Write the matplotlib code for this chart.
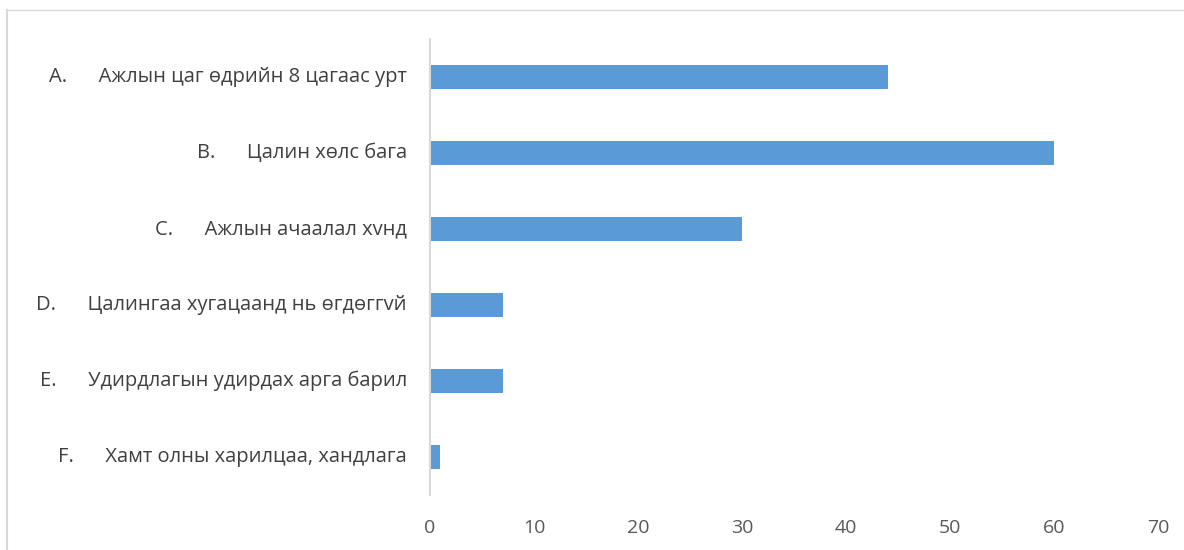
import matplotlib
matplotlib.use("Agg")
import matplotlib.pyplot as plt
from matplotlib.lines import Line2D

plt.rcParams['font.family'] = ['Open Sans', 'DejaVu Sans']

letters = ["A.", "B.", "C.", "D.", "E.", "F."]
categories = [
    "Ажлын цаг өдрийн 8 цагаас урт",
    "Цалин хөлс бага",
    "Ажлын ачаалал хvнд",
    "Цалингаа хугацаанд нь өгдөггvй",
    "Удирдлагын удирдах арга барил",
    "Хамт олны харилцаа, хандлага",
]
values = [44, 60, 30, 7, 7, 1]
xticks = [0, 10, 20, 30, 40, 50, 60, 70]

W, H = 1184, 550
fig = plt.figure(figsize=(W / 100, H / 100), dpi=100)
ax = fig.add_axes([430 / W, 1 - 495 / H, (1158 - 430) / W, (495 - 39) / H])

y = list(range(len(categories)))
ax.barh(y, values, height=0.32, color="#5B9BD5")
ax.set_ylim(len(categories) - 0.5, -0.5)
ax.set_xlim(0, 70)
ax.set_xticks(xticks)
ax.set_xticklabels([str(t) for t in xticks], color="#595959", fontsize=14)
ax.tick_params(axis="x", length=0, pad=17)
ax.tick_params(axis="y", length=0)
ax.set_yticks(y)
ax.set_yticklabels([])
for yi, (lt, cat) in enumerate(zip(letters, categories)):
    ax.text(-23 / 10.4, yi, f"{lt}      {cat}", ha="right", va="center",
            fontsize=14.5, color="#404040")

for s in ["top", "right", "bottom"]:
    ax.spines[s].set_visible(False)
ax.spines["left"].set_color("#d9d9d9")
ax.spines["left"].set_linewidth(1.5)

fig.add_artist(Line2D([7 / W, 7 / W], [0, 1 - 10 / H], color="#d9d9d9", lw=1.5, transform=fig.transFigure))
fig.add_artist(Line2D([7 / W, 1], [1 - 10 / H, 1 - 10 / H], color="#d9d9d9", lw=1.0, transform=fig.transFigure))

fig.savefig("out.png", dpi=100)
